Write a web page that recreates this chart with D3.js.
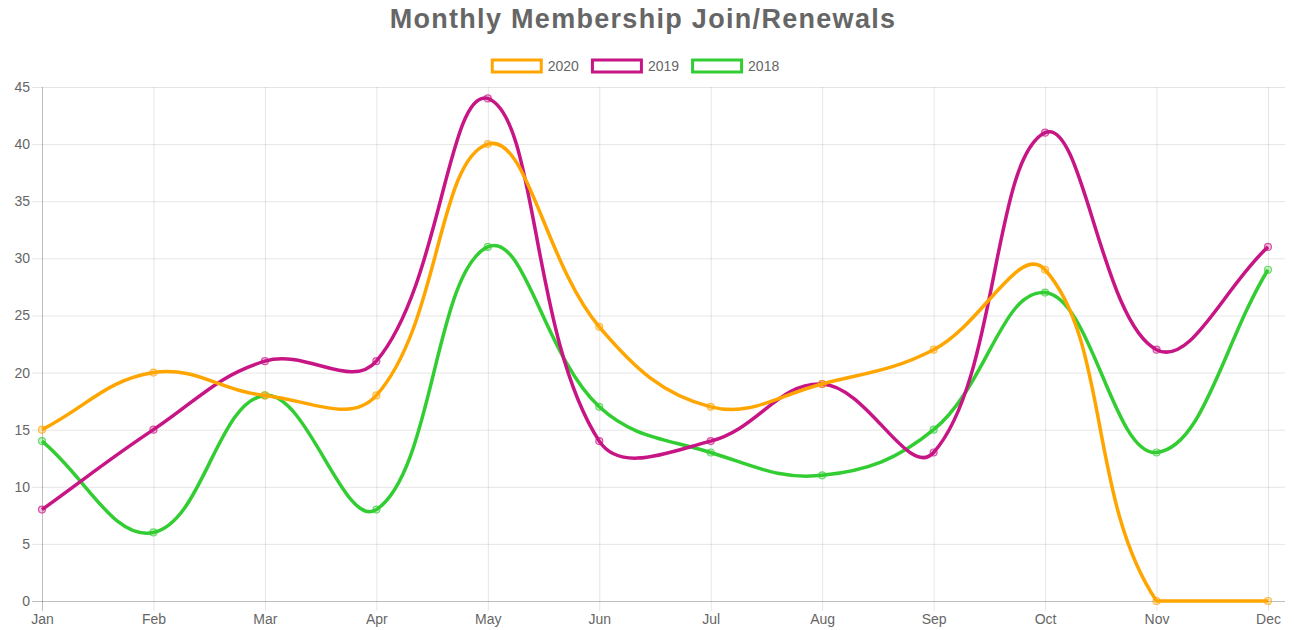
<!DOCTYPE html>
<html>
<head>
<meta charset="utf-8">
<title>Monthly Membership Join/Renewals</title>
<script src="https://cdn.jsdelivr.net/npm/d3@7"></script>
<style>
    html, body { margin: 0; padding: 0; background: #fff; }
    svg { display: block; font-family: "Liberation Sans", Arial, Helvetica, sans-serif; }
</style>
</head>
<body>
<svg id="chart" width="1294" height="630"></svg>
<script>
// Chart data
const months = ["Jan", "Feb", "Mar", "Apr", "May", "Jun", "Jul", "Aug", "Sep", "Oct", "Nov", "Dec"];
const seriesNames = ["2020", "2019", "2018"];
const seriesColors = ["#FFA500", "#C71585", "#32CD32"];
const values2020 = [15, 20, 18, 18, 40, 24, 17, 19, 22, 29, 0, 0];
const values2019 = [8, 15, 21, 21, 44, 14, 14, 19, 13, 41, 22, 31];
const values2018 = [14, 6, 18, 8, 31, 17, 13, 11, 15, 27, 13, 29];
const yTicks = [0, 5, 10, 15, 20, 25, 30, 35, 40, 45];
const seriesValues = [values2020, values2019, values2018];

const svg = d3.select('#chart');

// plot area
const area = {left: 42, right: 1268, gridRight: 1285, top: 87, bottom: 601};

const x = d3.scalePoint()
    .domain(months)
    .range([area.left, area.right]);

const y = d3.scaleLinear()
    .domain([0, 45])
    .range([area.bottom, area.top]);

// Spline like the one Chart.js uses (tension 0.4, control points kept inside the area)
function splineCurve(tension, box) {
    return function(context) {
        let pts = [];
        const cap = (v, lo, hi) => Math.max(lo, Math.min(hi, v));
        return {
            areaStart() {},
            areaEnd() {},
            lineStart() { pts = []; },
            point(px, py) { pts.push({x: +px, y: +py}); },
            lineEnd() {
                const n = pts.length;
                if (!n) return;
                pts.forEach((cur, i) => {
                    const prev = pts[i - 1] || cur;
                    const next = pts[i + 1] || cur;
                    const d01 = Math.hypot(cur.x - prev.x, cur.y - prev.y);
                    const d12 = Math.hypot(next.x - cur.x, next.y - cur.y);
                    let s01 = d01 / (d01 + d12);
                    let s12 = d12 / (d01 + d12);
                    if (isNaN(s01)) s01 = 0;
                    if (isNaN(s12)) s12 = 0;
                    const fa = tension * s01;
                    const fb = tension * s12;
                    cur.cpPrev = {
                        x: cap(cur.x - fa * (next.x - prev.x), box.left, box.right),
                        y: cap(cur.y - fa * (next.y - prev.y), box.top, box.bottom)
                    };
                    cur.cpNext = {
                        x: cap(cur.x + fb * (next.x - prev.x), box.left, box.right),
                        y: cap(cur.y + fb * (next.y - prev.y), box.top, box.bottom)
                    };
                });
                context.moveTo(pts[0].x, pts[0].y);
                for (let i = 1; i < n; i++) {
                    const a = pts[i - 1], b = pts[i];
                    context.bezierCurveTo(a.cpNext.x, a.cpNext.y, b.cpPrev.x, b.cpPrev.y, b.x, b.y);
                }
            }
        };
    };
}

// Title
svg.append('text')
    .attr('x', 643)
    .attr('y', 28)
    .attr('text-anchor', 'middle')
    .attr('fill', '#666')
    .style('font-size', '27px')
    .style('letter-spacing', '1.3px')
    .style('font-weight', 'bold')
    .text('Monthly Membership Join/Renewals');

// Grid lines
const grid = svg.append('g');

grid.selectAll('line.h')
    .data(yTicks)
    .enter()
    .append('line')
    .attr('x1', area.left - 10)
    .attr('x2', area.gridRight)
    .attr('y1', d => y(d) + 0.5)
    .attr('y2', d => y(d) + 0.5)
    .attr('stroke', d => d === 0 ? 'rgba(0,0,0,0.25)' : 'rgba(0,0,0,0.1)');

grid.selectAll('line.v')
    .data(months)
    .enter()
    .append('line')
    .attr('x1', d => x(d) + 0.5)
    .attr('x2', d => x(d) + 0.5)
    .attr('y1', area.top)
    .attr('y2', area.bottom + 10)
    .attr('stroke', (d, i) => i === 0 ? 'rgba(0,0,0,0.25)' : 'rgba(0,0,0,0.1)');

// Axes (lines and ticks drawn by the grid above)
const yAxis = d3.axisLeft(y)
    .tickValues(yTicks)
    .tickSize(0)
    .tickPadding(12);

const xAxis = d3.axisBottom(x)
    .tickSize(0)
    .tickPadding(18);

svg.append('g')
    .attr('transform', `translate(${area.left},0)`)
    .call(yAxis)
    .call(g => g.select('.domain').remove())
    .selectAll('text')
    .attr('fill', '#666')
    .style('font-size', '14px')
    .style('font-family', '"Liberation Sans", Arial, sans-serif');

svg.append('g')
    .attr('transform', `translate(0,${area.bottom})`)
    .call(xAxis)
    .call(g => g.select('.domain').remove())
    .selectAll('text')
    .attr('fill', '#666')
    .attr('dy', '0.35em')
    .attr('y', 18)
    .style('font-size', '14px')
    .style('font-family', '"Liberation Sans", Arial, sans-serif');

// Lines
const line = d3.line()
    .x((d, i) => x(months[i]))
    .y(d => y(d))
    .curve(splineCurve(0.4, {left: area.left, right: area.gridRight, top: area.top, bottom: area.bottom}));

// first dataset goes on top, so draw in reverse
const plot = svg.append('g');
d3.range(seriesValues.length).reverse().forEach(s => {
    const color = seriesColors[s];
    const g = plot.append('g');

    g.append('path')
        .datum(seriesValues[s])
        .attr('fill', 'none')
        .attr('stroke', color)
        .attr('stroke-width', 3.5)
        .attr('d', line);

    g.selectAll('circle')
        .data(seriesValues[s])
        .enter()
        .append('circle')
        .attr('cx', (d, i) => x(months[i]))
        .attr('cy', d => y(d))
        .attr('r', 3.5)
        .attr('fill', d3.color(color).copy({opacity: 0.25}))
        .attr('stroke', color)
        .attr('stroke-opacity', 0.7)
        .attr('stroke-width', 1.2);
});

// Legend
const legend = svg.append('g');
const boxW = 49, boxH = 12, legendY = 66;
let lx = 0;
seriesNames.forEach((name, i) => {
    const item = legend.append('g').attr('transform', `translate(${lx},0)`);
    item.append('rect')
        .attr('x', 1.5)
        .attr('y', legendY - boxH / 2)
        .attr('width', boxW)
        .attr('height', boxH)
        .attr('fill', '#fff')
        .attr('stroke', seriesColors[i])
        .attr('stroke-width', 3);
    const t = item.append('text')
        .attr('x', boxW + 8)
        .attr('y', legendY)
        .attr('dy', '0.35em')
        .attr('fill', '#666')
        .style('font-size', '14px')
        .text(name);
    lx += boxW + 8 + t.node().getComputedTextLength() + 12;
});
const legendWidth = lx - 12;
legend.attr('transform', `translate(${635 - legendWidth / 2},0)`);
</script>
</body>
</html>
